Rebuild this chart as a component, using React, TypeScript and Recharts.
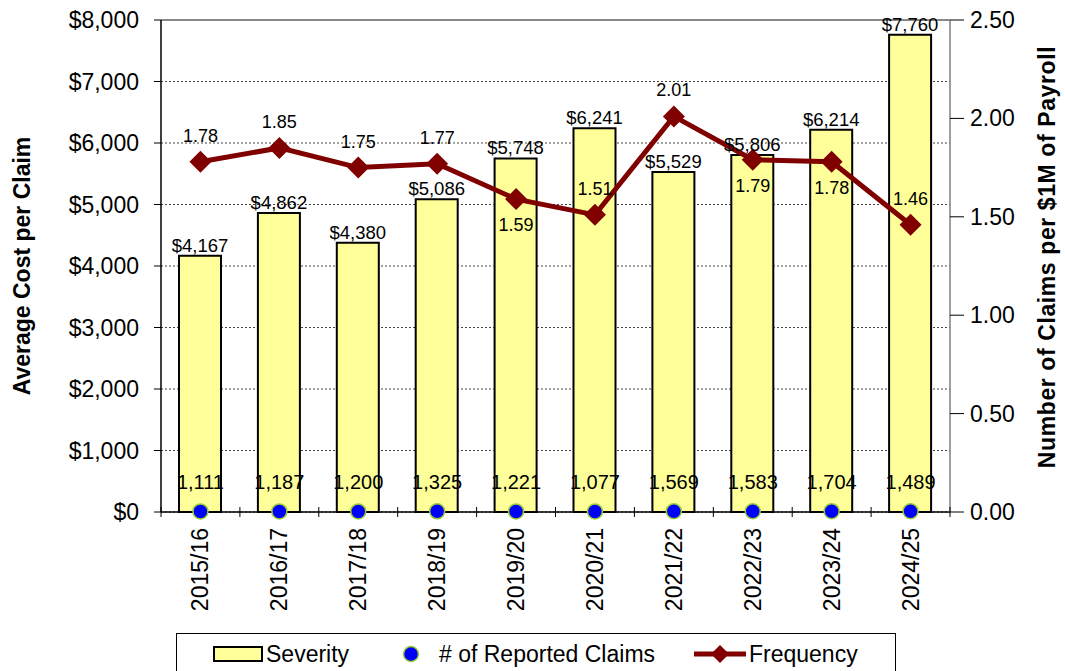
import React from 'react';
import {
    ComposedChart, Bar, Line, XAxis, YAxis, CartesianGrid, LabelList, ReferenceLine,
} from 'recharts';

// Policy years
const categories = ['2015/16', '2016/17', '2017/18', '2018/19', '2019/20', '2020/21', '2021/22', '2022/23', '2023/24', '2024/25'];
// Average cost per claim ($)
const severity = [4167, 4862, 4380, 5086, 5748, 6241, 5529, 5806, 6214, 7760];
// Number of reported claims
const claims = [1111, 1187, 1200, 1325, 1221, 1077, 1569, 1583, 1704, 1489];
// Claims per $1M of payroll
const frequency = [1.78, 1.85, 1.75, 1.77, 1.59, 1.51, 2.01, 1.79, 1.78, 1.46];
// where each frequency label sits relative to its marker
const freqLabelSide = ['above', 'above', 'above', 'above', 'below', 'above', 'above', 'below', 'below', 'above'];

const costTicks = [0, 1000, 2000, 3000, 4000, 5000, 6000, 7000, 8000];
const freqTicks = [0, 0.5, 1, 1.5, 2, 2.5];

const FONT = '"Liberation Sans", Arial, Helvetica, sans-serif';
const BAR_FILL = '#FFFF99';
const LINE_RED = '#800000';
const DOT_BLUE = '#0000FF';
const DOT_EDGE = '#9ACD32';

const data = categories.map((year, i) => ({
    year,
    severity: severity[i],
    claims: claims[i],
    frequency: frequency[i],
}));

const money = (v: number) => `$${Number(v).toLocaleString('en-US')}`;

// Category tick: rotated label plus tick marks on the band boundaries
const YearTick = (props: any) => {
    const { x, y, payload, index } = props;
    const half = payload && payload.offset ? payload.offset : 39.45;
    return (
        <g>
            {index === 0 && <line x1={x - half} x2={x - half} y1={y - 5} y2={y + 5} stroke="#000" strokeWidth={1} />}
            <line x1={x + half} x2={x + half} y1={y - 5} y2={y + 5} stroke="#000" strokeWidth={1} />
            <text
                x={x}
                y={y + 16}
                transform={`rotate(-90, ${x}, ${y + 16})`}
                textAnchor="end"
                dominantBaseline="central"
                fontSize={23}
                fontFamily={FONT}
                fill="#000"
            >
                {payload.value}
            </text>
        </g>
    );
};

// Right axis ticks cross the axis line
const FreqTick = (props: any) => {
    const { x, y, payload } = props;
    return (
        <g>
            <line x1={x - 20} x2={x - 6} y1={y} y2={y} stroke="#000" strokeWidth={1} />
            <text x={x} y={y} textAnchor="start" dominantBaseline="central" fontSize={23} fontFamily={FONT} fill="#000">
                {Number(payload.value).toFixed(2)}
            </text>
        </g>
    );
};

const Diamond = (props: any) => {
    const { cx, cy } = props;
    if (cx == null || cy == null) return null;
    return <path d={`M${cx},${cy - 11} L${cx + 11},${cy} L${cx},${cy + 11} L${cx - 11},${cy} Z`} fill={LINE_RED} />;
};

const ClaimDot = (props: any) => {
    const { cx, cy } = props;
    if (cx == null || cy == null) return null;
    return <circle cx={cx} cy={cy} r={7.5} fill={DOT_BLUE} stroke={DOT_EDGE} strokeWidth={1.5} />;
};

const FreqLabel = (props: any) => {
    const { x, y, value, index } = props;
    const below = freqLabelSide[index] === 'below';
    return (
        <text x={x} y={below ? y + 32 : y - 20} textAnchor="middle" fontSize={18} fontFamily={FONT} fill="#000">
            {Number(value).toFixed(2)}
        </text>
    );
};

const AxisTitle = (props: any) => {
    const { viewBox, text, cx, dy = 0, spacing = 0 } = props;
    const cy = (viewBox ? viewBox.y + viewBox.height / 2 : 266) + dy;
    return (
        <text
            x={cx}
            y={cy}
            transform={`rotate(-90, ${cx}, ${cy})`}
            textAnchor="middle"
            dominantBaseline="central"
            fontSize={23}
            fontWeight="bold"
            fontFamily={FONT}
            letterSpacing={spacing}
            fill="#000"
        >
            {text}
        </text>
    );
};

const ChartLegend = () => {
    const text: React.CSSProperties = { position: 'absolute', top: 6, fontSize: 23, fontFamily: FONT, color: '#000', lineHeight: '28px' };
    return (
        <div style={{ position: 'absolute', left: 176, top: 633, width: 718, height: 60, border: '1.5px solid #000', background: '#fff' }}>
            <svg width={718} height={50} style={{ position: 'absolute', left: 0, top: 0 }}>
                <rect x={37} y={13} width={48} height={14} fill={BAR_FILL} stroke="#000" strokeWidth={2} />
                <circle cx={234} cy={20} r={7.5} fill={DOT_BLUE} stroke={DOT_EDGE} strokeWidth={1.5} />
                <line x1={517} x2={569} y1={20} y2={20} stroke={LINE_RED} strokeWidth={5} />
                <path d="M543,11 L552,20 L543,29 L534,20 Z" fill={LINE_RED} />
            </svg>
            <span style={{ ...text, left: 89 }}>Severity</span>
            <span style={{ ...text, left: 262 }}># of Reported Claims</span>
            <span style={{ ...text, left: 572 }}>Frequency</span>
        </div>
    );
};

export default function App() {
    return (
        <div style={{ position: 'absolute', left: 0, top: 0, width: 1065, height: 671, overflow: 'hidden', background: '#fff', fontFamily: FONT }}>
            <ComposedChart
                width={1065}
                height={671}
                data={data}
                margin={{ top: 20, right: 0, bottom: 0, left: 0 }}
                barCategoryGap="45%"
            >
                <CartesianGrid yAxisId="left" vertical={false} stroke="#444" strokeDasharray="2 2" />
                <XAxis
                    dataKey="year"
                    height={159}
                    interval={0}
                    tickLine={false}
                    tickSize={0}
                    tickMargin={0}
                    axisLine={{ stroke: '#000', strokeWidth: 1.5 }}
                    tick={<YearTick />}
                />
                <YAxis
                    yAxisId="left"
                    width={161}
                    domain={[0, 8000]}
                    ticks={costTicks}
                    tickFormatter={money}
                    tick={{ fontSize: 23, fill: '#000', fontFamily: FONT }}
                    tickSize={7}
                    tickMargin={15}
                    tickLine={{ stroke: '#000' }}
                    axisLine={{ stroke: '#000', strokeWidth: 1.5 }}
                    label={<AxisTitle text="Average Cost per Claim" cx={22} />}
                />
                <YAxis
                    yAxisId="right"
                    orientation="right"
                    width={115}
                    domain={[0, 2.5]}
                    ticks={freqTicks}
                    tick={<FreqTick />}
                    tickSize={7}
                    tickMargin={13}
                    tickLine={false}
                    axisLine={{ stroke: '#808080', strokeWidth: 1.5 }}
                    label={<AxisTitle text="Number of Claims per $1M of Payroll" cx={1047} dy={-9} spacing={0.6} />}
                />
                <YAxis yAxisId="claims" hide width={0} domain={[0, 1000000]} />
                <ReferenceLine yAxisId="left" y={8000} stroke="#888" strokeWidth={2} />
                <Bar
                    yAxisId="left"
                    dataKey="severity"
                    name="Severity"
                    fill={BAR_FILL}
                    stroke="#000"
                    strokeWidth={2}
                    barSize={42}
                    isAnimationActive={false}
                >
                    <LabelList
                        dataKey="severity"
                        position="top"
                        offset={4}
                        formatter={(v: any) => money(v)}
                        style={{ fontSize: 18.5, fill: '#000', fontFamily: FONT }}
                    />
                </Bar>
                <Line
                    yAxisId="right"
                    dataKey="frequency"
                    name="Frequency"
                    stroke={LINE_RED}
                    strokeWidth={5}
                    dot={<Diamond />}
                    activeDot={false}
                    isAnimationActive={false}
                >
                    <LabelList dataKey="frequency" content={<FreqLabel />} />
                </Line>
                <Line
                    yAxisId="claims"
                    dataKey="claims"
                    name="# of Reported Claims"
                    stroke="none"
                    strokeWidth={0}
                    dot={<ClaimDot />}
                    activeDot={false}
                    isAnimationActive={false}
                >
                    <LabelList
                        dataKey="claims"
                        position="top"
                        offset={22}
                        formatter={(v: any) => Number(v).toLocaleString('en-US')}
                        style={{ fontSize: 20, fill: '#000', fontFamily: FONT }}
                    />
                </Line>
            </ComposedChart>
            <ChartLegend />
        </div>
    );
}
